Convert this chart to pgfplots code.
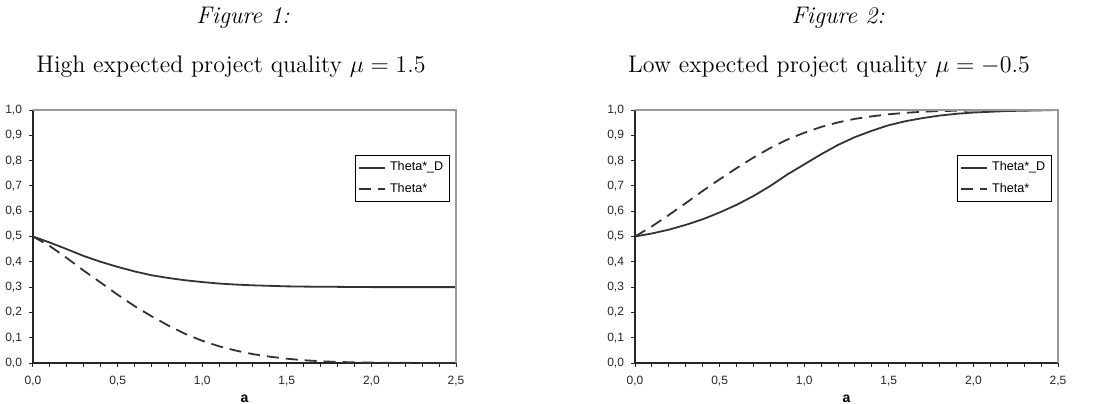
\documentclass[border=0pt]{standalone}
\usepackage{fontspec}
\newfontfamily\arial{Liberation Sans}
\usepackage{pgfplots}
\pgfplotsset{compat=1.18}

\pgfplotsset{excel/.style={
  width=211.5pt, height=126.5pt, scale only axis,
  xmin=0, xmax=2.5, ymin=0, ymax=1,
  clip=false,
  axis lines=left,
  axis line style={black!85, line width=0.6pt, -},
  xtick={0,0.5,1,1.5,2,2.5},
  ytick={0,0.1,0.2,0.3,0.4,0.5,0.6,0.7,0.8,0.9,1.0},
  minor x tick num=4,
  tick align=outside,
  major tick length=2pt, minor tick length=2pt,
  every tick/.style={black!85, line width=0.5pt},
  every minor tick/.style={black!85, line width=0.5pt},
  ticklabel style={font=\arial\fontsize{6}{7}\selectfont, text=black!85},
  xticklabel style={yshift=-1pt},
  /pgf/number format/.cd, use comma, fixed, fixed zerofill, precision=1, assume math mode=true, /pgfplots/.cd,
  xlabel={\arial\bfseries\fontsize{7}{8}\selectfont a},
  xlabel style={inner sep=0pt, yshift=-1pt},
  legend style={at={(0.986,0.822)}, anchor=north east, draw=black, line width=0.4pt,
    font=\arial\fontsize{6.3}{7}\selectfont, inner sep=1.2pt, row sep=0.5pt,
    cells={anchor=west}},
  legend image code/.code={\draw[#1] (0pt,0pt) -- (13pt,0pt);},
  solidc/.style={black!80, line width=0.9pt},
  dashc/.style={black!80, line width=0.9pt, dash pattern=on 6pt off 3.5pt},
}}

\begin{document}
\begin{tikzpicture}
\path[use as bounding box] (0,0) rectangle (548pt,201.5pt);

\node[anchor=base] at (121.5pt,190pt) {\fontsize{12}{14}\selectfont\itshape Figure 1:};
\node[anchor=base] at (115.5pt,165.5pt) {\fontsize{12}{14}\selectfont High expected project quality $\mu=1.5$};
\node[anchor=base] at (419pt,190pt) {\fontsize{12}{14}\selectfont\itshape Figure 2:};
\node[anchor=base] at (414.5pt,165.5pt) {\fontsize{12}{14}\selectfont Low expected project quality $\mu=-0.5$};

\begin{axis}[excel, at={(16.5pt,20pt)}, anchor=south west]
\addplot[solidc] coordinates {
(0,0.500) (0.1,0.476) (0.2,0.450) (0.3,0.423) (0.4,0.400) (0.5,0.380)
(0.6,0.362) (0.7,0.347) (0.8,0.336) (0.9,0.327) (1.0,0.320) (1.1,0.314)
(1.2,0.310) (1.3,0.307) (1.4,0.305) (1.5,0.303) (1.6,0.302) (1.8,0.301)
(2.0,0.300) (2.5,0.300)};
\addlegendentry{Theta*\_D}
\addplot[dashc] coordinates {
(0,0.500) (0.1,0.462) (0.2,0.415) (0.3,0.365) (0.4,0.318) (0.5,0.270)
(0.6,0.225) (0.7,0.185) (0.8,0.148) (0.9,0.115) (1.0,0.088) (1.1,0.066)
(1.2,0.049) (1.3,0.035) (1.4,0.025) (1.5,0.017) (1.6,0.011) (1.7,0.007)
(1.8,0.004) (2.0,0.0015) (2.2,0.0005) (2.5,0.000)};
\addlegendentry{Theta*}
\draw[black!40, line width=0.6pt] (rel axis cs:0,1) -- (rel axis cs:1,1) -- (rel axis cs:1,0);
\end{axis}

\begin{axis}[excel, at={(317.5pt,20pt)}, anchor=south west]
\addplot[solidc] coordinates {
(0,0.500) (0.1,0.512) (0.2,0.527) (0.3,0.546) (0.4,0.568) (0.5,0.595)
(0.6,0.625) (0.7,0.660) (0.8,0.700) (0.9,0.745) (1.0,0.785) (1.1,0.825)
(1.2,0.862) (1.3,0.893) (1.4,0.918) (1.5,0.940) (1.6,0.956) (1.7,0.968)
(1.8,0.978) (1.9,0.985) (2.0,0.990) (2.2,0.996) (2.5,1.000)};
\addlegendentry{Theta*\_D}
\addplot[dashc] coordinates {
(0,0.500) (0.1,0.540) (0.2,0.585) (0.3,0.632) (0.4,0.680) (0.5,0.726)
(0.6,0.770) (0.7,0.812) (0.8,0.850) (0.9,0.883) (1.0,0.910) (1.1,0.933)
(1.2,0.951) (1.3,0.965) (1.4,0.975) (1.5,0.983) (1.6,0.989) (1.7,0.993)
(1.8,0.996) (2.0,0.998) (2.5,1.000)};
\addlegendentry{Theta*}
\draw[black!40, line width=0.6pt] (rel axis cs:0,1) -- (rel axis cs:1,1) -- (rel axis cs:1,0);
\end{axis}
\end{tikzpicture}
\end{document}
